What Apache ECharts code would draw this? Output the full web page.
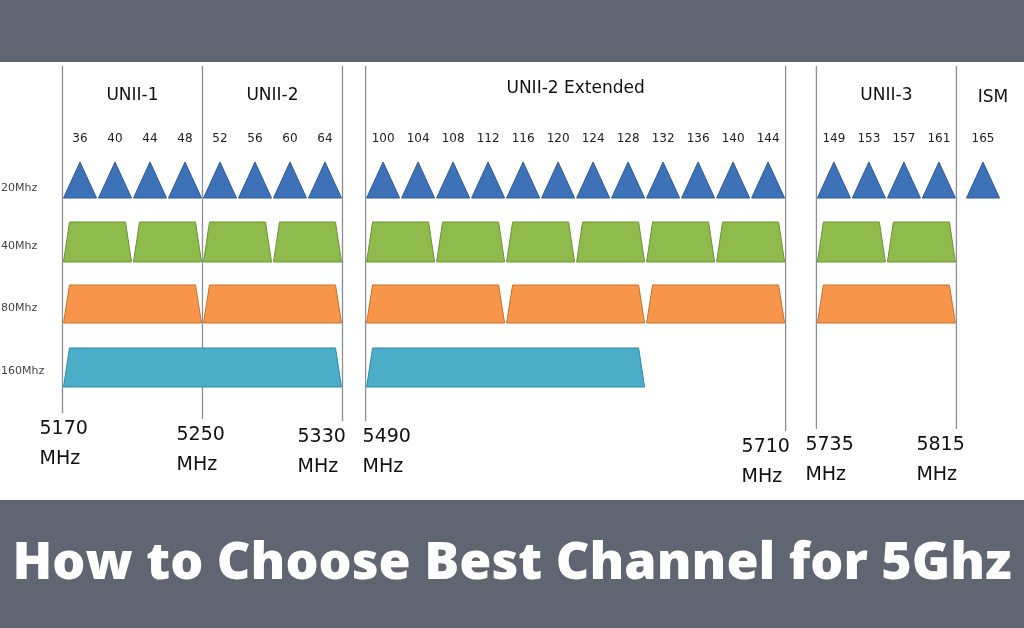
<!DOCTYPE html>
<html><head><meta charset="utf-8">
<script src="https://cdn.jsdelivr.net/npm/echarts@6/dist/echarts.min.js"></script>
<style>html,body{margin:0;padding:0;background:#fff}#main{width:1024px;height:628px}</style>
</head><body><div id="main"></div>
<script>
// channel groups: first channel and its slot offset on the drawing axis (1 slot = 20MHz)
var groups = [[36, 0], [100, 8.66], [149, 21.54], [165, 25.8]];
var ch20 = [36,40,44,48,52,56,60,64,100,104,108,112,116,120,124,128,132,136,140,144,149,153,157,161,165];
var ch40 = [[36,40],[44,48],[52,56],[60,64],[100,104],[108,112],[116,120],[124,128],[132,136],[140,144],[149,153],[157,161]];
var ch80 = [[36,48],[52,64],[100,112],[116,128],[132,144],[149,161]];
var ch160 = [[36,64],[100,128]];
var rowNames = ['20Mhz','40Mhz','80Mhz','160Mhz'];
var rowY = [[162,198],[222,262],[285,323],[348,387]];
var bands = [['UNII-1',36,48,96],['UNII-2',52,64,96],['UNII-2 Extended',100,144,89],['UNII-3',149,161,96],['ISM',165,165,98]];
// frequency edges: label, channel, side (-1 left edge, 1 right edge), label y, label dx
var freqs = [['5170',36,-1,427,-23],['5250',48,1,433,-26],['5330',64,1,435,-45],['5490',100,-1,435,-3],['5710',144,1,445,-44],['5735',149,-1,443,-11],['5815',161,1,443,-40]];
var title = 'How to Choose Best Channel for 5Ghz';

function slot(ch){var g=groups[0];groups.forEach(function(x){if(ch>=x[0])g=x;});return g[1]+(ch-g[0])/4;}
var colors = [['#3d72b8','#2d5a96'],['#8fbb4d','#6b9433'],['#f7954a','#c8702a'],['#4badc8','#2f8aa3']];

var shapes = [];
ch20.forEach(function(c){shapes.push([slot(c)-0.5,slot(c)+0.5,0]);});
ch40.forEach(function(p){shapes.push([slot(p[0])-0.5,slot(p[1])+0.5,1]);});
ch80.forEach(function(p){shapes.push([slot(p[0])-0.5,slot(p[1])+0.5,2]);});
ch160.forEach(function(p){shapes.push([slot(p[0])-0.5,slot(p[1])+0.5,3]);});

var chart = echarts.init(document.getElementById('main'));
chart.setOption({
  animation:false,
  grid:{left:0,right:0,top:0,bottom:0},
  xAxis:{type:'value',min:-80/35,max:(1024-80)/35,show:false},
  yAxis:{type:'value',min:0,max:628,inverse:true,show:false},
  graphic:[
    {type:'rect',shape:{x:0,y:0,width:1024,height:62},style:{fill:'#5f6672'}},
    {type:'rect',shape:{x:0,y:500,width:1024,height:128},style:{fill:'#5f6672'}},
    {type:'text',left:'center',top:538,style:{text:title,fill:'#fff',font:'800 52px "Open Sans"'}}
  ],
  series:[
    {type:'custom',data:freqs,renderItem:function(p,api){
      var f=freqs[p.dataIndex];var x=api.coord([slot(f[1])+f[2]*0.5,0])[0];
      return {type:'group',children:[
        {type:'line',shape:{x1:x,y1:66,x2:x,y2:f[3]-14},style:{stroke:'#8a8f96',lineWidth:1.3}},
        {type:'text',x:x+f[4],y:f[3]-13,style:{text:f[0]+'\nMHz',font:'19px "DejaVu Sans"',fill:'#111',lineHeight:30,verticalAlign:'top'}}
      ]};
    }},
    {type:'custom',data:shapes,renderItem:function(p,api){
      var s=shapes[p.dataIndex];var r=rowY[s[2]];
      var a=api.coord([s[0],r[0]]),b=api.coord([s[1],r[1]]);
      var pts = s[2]===0 ? [[a[0]+1,b[1]],[(a[0]+b[0])/2,a[1]],[b[0]-1,b[1]]]
        : [[a[0]+1,b[1]],[a[0]+7,a[1]],[b[0]-7,a[1]],[b[0]-1,b[1]]];
      return {type:'polygon',shape:{points:pts},style:{fill:colors[s[2]][0],stroke:colors[s[2]][1],lineWidth:1}};
    }},
    {type:'custom',data:ch20,renderItem:function(p,api){
      var x=api.coord([slot(ch20[p.dataIndex]),139]);
      return {type:'text',x:x[0],y:x[1],style:{text:String(ch20[p.dataIndex]),font:'12px "DejaVu Sans"',fill:'#222',align:'center',verticalAlign:'middle'}};
    }},
    {type:'custom',data:bands,renderItem:function(p,api){
      var b=bands[p.dataIndex];var x=api.coord([(slot(b[1])+slot(b[2]))/2,b[3]]);
      return {type:'text',x:x[0]+(b[0]==='ISM'?10:0),y:x[1],style:{text:b[0],font:'17px "DejaVu Sans"',fill:'#111',align:'center',verticalAlign:'middle'}};
    }},
    {type:'custom',data:rowNames,renderItem:function(p,api){
      var r=rowY[p.dataIndex];var y=api.coord([0,(r[0]+r[1])/2+(p.dataIndex===0?8:4)])[1];
      return {type:'text',x:1,y:y,style:{text:rowNames[p.dataIndex],font:'11px "DejaVu Sans"',fill:'#444',verticalAlign:'middle'}};
    }}
  ]
});
</script></body></html>
